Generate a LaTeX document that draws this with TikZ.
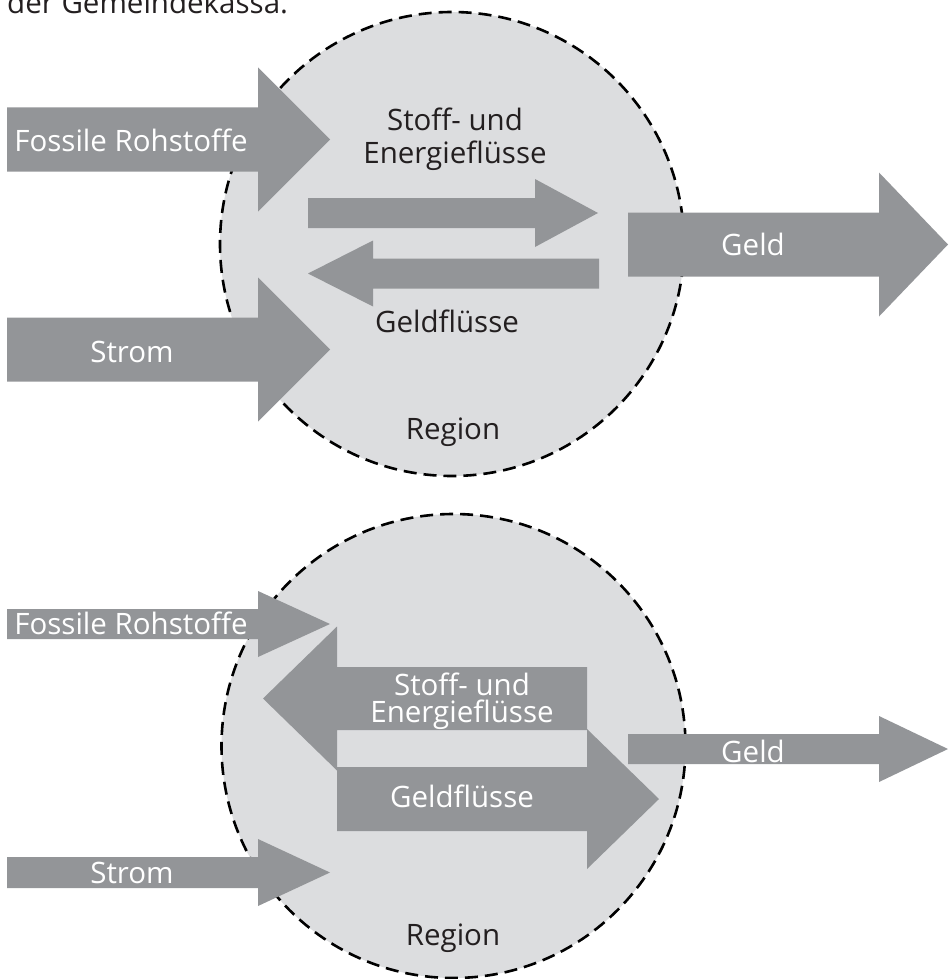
\documentclass[tikz,border=0pt]{standalone}
\usepackage{fontspec}
\setmainfont{Open Sans}
\definecolor{arrowgray}{HTML}{939598}
\definecolor{regiongray}{HTML}{DCDDDF}
\definecolor{textdark}{HTML}{231F20}
\newcommand{\myRarrow}[6]{% tail x, head base x, tip x, center y, half shaft, half head
  \fill[arrowgray] (#1,#4-#5) -- (#2,#4-#5) -- (#2,#4-#6) -- (#3,#4) -- (#2,#4+#6) -- (#2,#4+#5) -- (#1,#4+#5) -- cycle;}
\tikzset{
  region/.style={fill=regiongray, draw=black, line width=2.6pt, dash pattern=on 13pt off 7pt},
  lbl/.style={font=\fontsize{29.5}{35}\selectfont, text=textdark, anchor=base, inner sep=0pt},
  wlbl/.style={lbl, text=white},
}
\begin{document}
\begin{tikzpicture}[x=1pt,y=-1pt]
\useasboundingbox (0,0) rectangle (948,979);
\node[lbl, anchor=base west, text=textdark] (caption) at (7,14) {der Gemeindekassa.};
% ---------- top diagram ----------
\draw[region] (452,244) circle[radius=232];
\myRarrow{7}{258}{330}{139.5}{32}{72}
\myRarrow{7}{258}{330}{349.5}{32}{72}
\myRarrow{308}{535}{598}{213}{15}{34}
\myRarrow{599}{373}{308}{273.5}{15}{33}
\myRarrow{628}{879}{948}{244.5}{32}{72}
\node[wlbl] (fr1) at (131,151) {Fossile Rohstoffe};
\node[wlbl] (st1) at (132,362) {Strom};
\node[lbl] (se1) at (455,130) {Stoff- und};
\node[lbl] (en1) at (455,163) {Energieflüsse};
\node[lbl] (gf1) at (447,332) {Geldflüsse};
\node[wlbl] (ge1) at (753,255) {Geld};
\node[lbl] (re1) at (453,439) {Region};
% ---------- bottom diagram ----------
\draw[region] (453.5,746) circle[radius=232];
\myRarrow{7}{258}{330}{624}{15}{33}
\myRarrow{587}{337}{263}{698.5}{31.5}{72}
\myRarrow{337}{587}{659}{799}{32}{70}
\myRarrow{628}{879}{948}{749}{15}{33}
\myRarrow{7}{258}{330}{872.5}{15.5}{33.5}
\node[wlbl] (fr2) at (131,634) {Fossile Rohstoffe};
\node[wlbl] (st2) at (132,883) {Strom};
\node[wlbl] (se2) at (462,695) {Stoff- und};
\node[wlbl] (en2) at (462,722) {Energieflüsse};
\node[wlbl] (gf2) at (462,807) {Geldflüsse};
\node[wlbl] (ge2) at (753,762) {Geld};
\node[lbl] (re2) at (453,945) {Region};
\end{tikzpicture}
\end{document}
